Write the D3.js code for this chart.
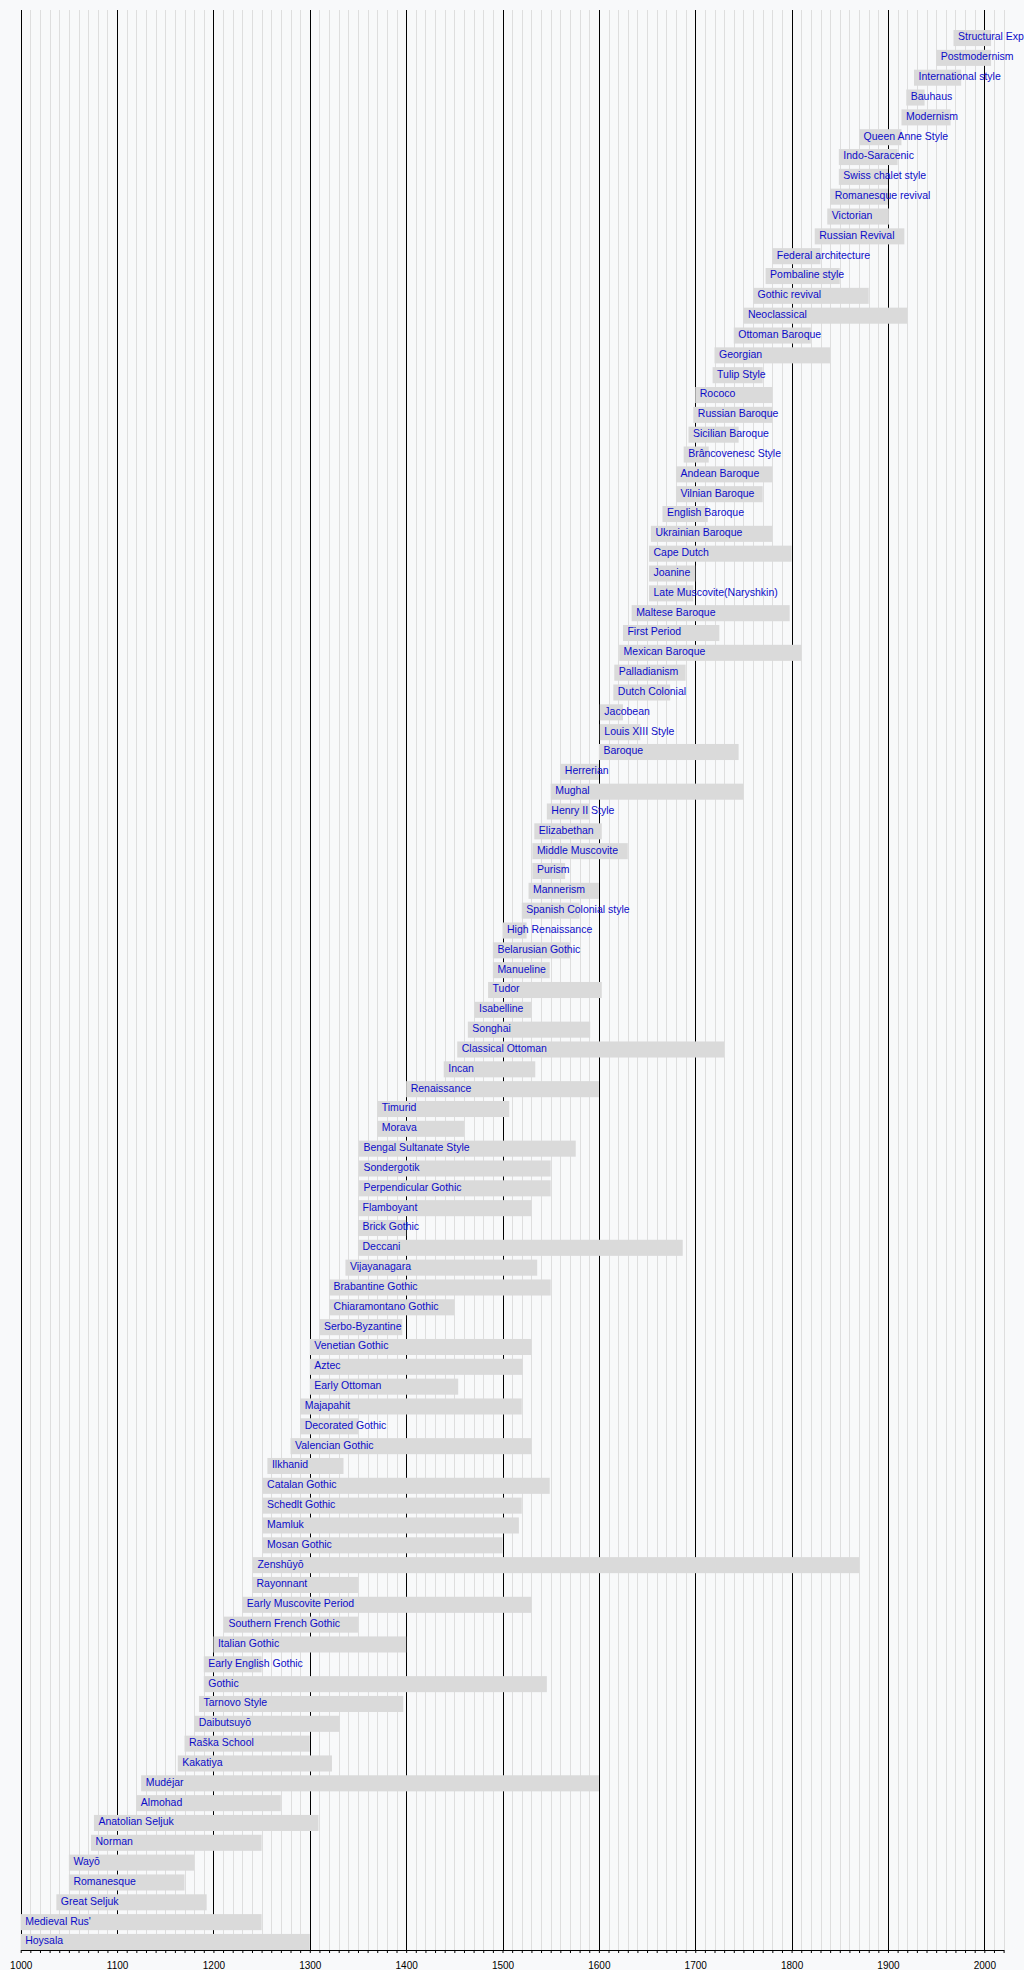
<!DOCTYPE html>
<html>
<head>
<meta charset="utf-8">
<script src="https://cdn.jsdelivr.net/npm/d3@7"></script>
<style>
  body { margin: 0; background: #f8f9fa; overflow: hidden; }
  svg { display: block; }
  .style-label { font-family: "Liberation Sans", Arial, sans-serif; font-size: 10.5px; fill: #0c0cc8; }
  .time-axis text { font-family: "Liberation Sans", Arial, sans-serif; font-size: 10px; fill: #000; }
</style>
</head>
<body>
<svg id="timeline"></svg>
<script>
/* Timeline of architectural styles, 1000 - present.
   Rows go from the newest start date (top) to the oldest (bottom). */

const styleNames = [
  "Structural Expressionism", "Postmodernism", "International style", "Bauhaus", "Modernism",
  "Queen Anne Style", "Indo-Saracenic", "Swiss chalet style", "Romanesque revival", "Victorian",
  "Russian Revival", "Federal architecture", "Pombaline style", "Gothic revival", "Neoclassical",
  "Ottoman Baroque", "Georgian", "Tulip Style", "Rococo", "Russian Baroque",
  "Sicilian Baroque", "Brâncovenesc Style", "Andean Baroque", "Vilnian Baroque", "English Baroque",
  "Ukrainian Baroque", "Cape Dutch", "Joanine", "Late Muscovite(Naryshkin)", "Maltese Baroque",
  "First Period", "Mexican Baroque", "Palladianism", "Dutch Colonial", "Jacobean",
  "Louis XIII Style", "Baroque", "Herrerian", "Mughal", "Henry II Style",
  "Elizabethan", "Middle Muscovite", "Purism", "Mannerism", "Spanish Colonial style",
  "High Renaissance", "Belarusian Gothic", "Manueline", "Tudor", "Isabelline",
  "Songhai", "Classical Ottoman", "Incan", "Renaissance", "Timurid",
  "Morava", "Bengal Sultanate Style", "Sondergotik", "Perpendicular Gothic", "Flamboyant",
  "Brick Gothic", "Deccani", "Vijayanagara", "Brabantine Gothic", "Chiaramontano Gothic",
  "Serbo-Byzantine", "Venetian Gothic", "Aztec", "Early Ottoman", "Majapahit",
  "Decorated Gothic", "Valencian Gothic", "Ilkhanid", "Catalan Gothic", "Schedlt Gothic",
  "Mamluk", "Mosan Gothic", "Zenshūyō", "Rayonnant", "Early Muscovite Period",
  "Southern French Gothic", "Italian Gothic", "Early English Gothic", "Gothic", "Tarnovo Style",
  "Daibutsuyō", "Raška School", "Kakatiya", "Mudéjar", "Almohad",
  "Anatolian Seljuk", "Norman", "Wayō", "Romanesque", "Great Seljuk",
  "Medieval Rus'", "Hoysala"
];

const startYears = [
  1968, 1950, 1927, 1919, 1914,
  1870, 1849, 1849, 1840, 1837,
  1824, 1780, 1773, 1760, 1750,
  1740, 1720, 1718, 1700, 1698,
  1693, 1688, 1680, 1680, 1666,
  1654, 1652, 1652, 1652, 1634,
  1625, 1621, 1616, 1615, 1601,
  1601, 1600, 1560, 1550, 1546,
  1533, 1531, 1531, 1527, 1520,
  1500, 1490, 1490, 1485, 1471,
  1464, 1453, 1439, 1400, 1370,
  1370, 1351, 1351, 1351, 1350,
  1350, 1350, 1337, 1320, 1320,
  1310, 1300, 1300, 1300, 1290,
  1290, 1280, 1256, 1251, 1251,
  1251, 1251, 1241, 1240, 1230,
  1211, 1200, 1190, 1190, 1185,
  1180, 1170, 1163, 1125, 1120,
  1076, 1073, 1050, 1050, 1037,
  1000, 1000
];

const endYears = [
  2007, 2007, 1976, 1938, 1965,
  1914, 1910, 1900, 1900, 1901,
  1917, 1830, 1850, 1880, 1920,
  1820, 1840, 1770, 1780, 1780,
  1745, 1714, 1780, 1770, 1713,
  1780, 1800, 1700, 1698, 1798,
  1725, 1810, 1690, 1674, 1625,
  1643, 1745, 1600, 1750, 1590,
  1603, 1630, 1565, 1600, 1580,
  1525, 1570, 1549, 1603, 1530,
  1591, 1730, 1534, 1600, 1507,
  1460, 1576, 1550, 1550, 1530,
  1400, 1687, 1536, 1550, 1450,
  1396, 1530, 1521, 1454, 1520,
  1350, 1530, 1335, 1549, 1520,
  1517, 1500, 1870, 1350, 1530,
  1350, 1400, 1250, 1546, 1397,
  1331, 1300, 1323, 1600, 1270,
  1309, 1250, 1180, 1170, 1193,
  1250, 1300
];

const axisYears = d3.range(1000, 2021, 10);

const width = 1024,
  height = 1970;

const plotTop = 10,
  rowsTop = 30,
  plotBottom = 1950;

const svg = d3.select("#timeline").attr("width", width).attr("height", height);

const x = d3.scaleLinear().domain([1000, 2020]).range([20.7, 1003.6]);

const y = d3
  .scaleBand()
  .domain(styleNames)
  .range([rowsTop, plotBottom])
  .paddingInner(0.19)
  .paddingOuter(0);

// decade lines first, century lines over them, bars cover both
svg
  .append("g")
  .attr("class", "minor-grid")
  .selectAll("line")
  .data(axisYears.filter((d) => d % 100 !== 0))
  .join("line")
  .attr("x1", (d) => Math.round(x(d)) + 0.5)
  .attr("x2", (d) => Math.round(x(d)) + 0.5)
  .attr("y1", plotTop)
  .attr("y2", plotBottom)
  .attr("stroke", "#dedede")
  .attr("stroke-width", 1);

svg
  .append("g")
  .attr("class", "major-grid")
  .selectAll("line")
  .data(axisYears.filter((d) => d % 100 === 0))
  .join("line")
  .attr("x1", (d) => Math.round(x(d)) + 0.5)
  .attr("x2", (d) => Math.round(x(d)) + 0.5)
  .attr("y1", plotTop)
  .attr("y2", plotBottom)
  .attr("stroke", "#000")
  .attr("stroke-width", 1);

const rows = styleNames.map((name, i) => ({
  name: name,
  start: startYears[i],
  end: endYears[i],
}));

svg
  .append("g")
  .attr("class", "bars")
  .selectAll("rect")
  .data(rows)
  .join("rect")
  .attr("x", (d) => x(d.start))
  .attr("y", (d) => y(d.name))
  .attr("width", (d) => x(d.end) - x(d.start))
  .attr("height", y.bandwidth())
  .attr("fill", "#dadada");

// labels start just right of the bar start; the last one runs off the page as in the original
svg
  .append("g")
  .attr("class", "labels")
  .selectAll("text")
  .data(rows)
  .join("text")
  .attr("class", "style-label")
  .attr("x", (d) => x(d.start) + 4.5)
  .attr("y", (d) => y(d.name) + 10.4)
  .text((d) => d.name);

const timeAxis = d3
  .axisBottom(x)
  .tickValues(axisYears)
  .tickSize(3)
  .tickSizeOuter(0)
  .tickPadding(8.4)
  .tickFormat((d) => (d % 100 === 0 ? d : ""));

svg
  .append("g")
  .attr("class", "time-axis")
  .attr("transform", `translate(0, ${plotBottom})`)
  .call(timeAxis)
  .call((g) => g.selectAll("path, line").attr("stroke", "#000"));
</script>
</body>
</html>
